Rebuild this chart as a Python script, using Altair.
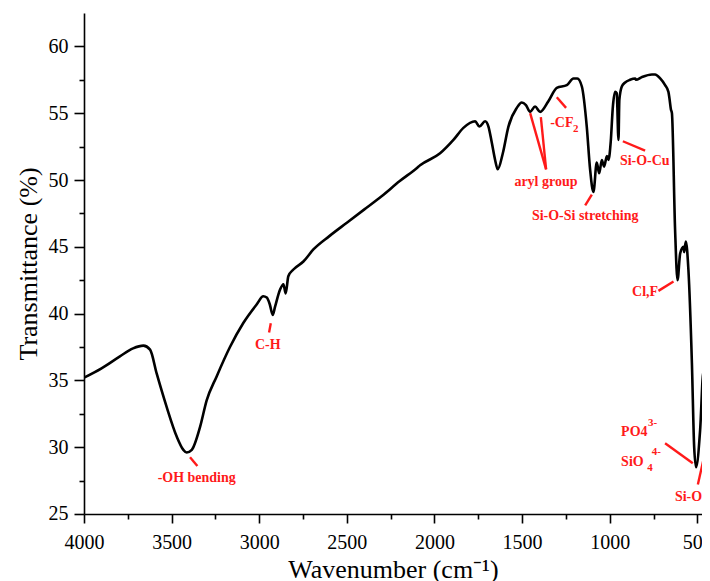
import altair as alt
import pandas as pd

# ---- spectrum (wavenumber cm-1, transmittance %) ----
wavenumber = [4000, 3900, 3795, 3720, 3661, 3623, 3585, 3528, 3471, 3433, 3414,
              3385, 3338, 3300, 3243, 3167, 3091, 3014, 2977, 2957, 2940, 2923,
              2910, 2881, 2862, 2849, 2834, 2805, 2748, 2691, 2600, 2500, 2400,
              2300, 2200, 2100, 2082, 1968, 1892, 1835, 1768, 1744, 1711, 1692,
              1673, 1654, 1639, 1610, 1578, 1530, 1502, 1478, 1454, 1426, 1397,
              1350, 1302, 1245, 1207, 1185, 1159, 1131, 1112, 1093, 1074, 1060,
              1045, 1032, 1016, 1007, 994, 982, 969, 960, 950, 945, 931, 912,
              884, 855, 850, 817, 759, 741, 712, 684, 665, 659, 651, 645, 627,
              613, 598, 579, 575, 566, 551, 531, 518, 507, 484, 465, 446, 427]
transmittance = [35.2, 35.9, 36.8, 37.4, 37.6, 37.3, 35.5, 33.0, 30.8, 29.8, 29.6,
                 29.8, 31.5, 33.5, 35.3, 37.5, 39.3, 40.7, 41.3, 41.2, 40.7, 39.9,
                 40.5, 41.8, 42.2, 41.5, 42.8, 43.3, 43.9, 44.8, 45.8, 46.8, 47.8,
                 48.8, 49.9, 50.9, 51.1, 52.0, 53.0, 53.9, 54.4, 54.0, 54.4, 54.0,
                 52.8, 51.5, 50.8, 52.0, 54.0, 55.4, 55.8, 55.6, 55.1, 55.5, 55.1,
                 55.9, 56.9, 57.1, 57.6, 57.6, 57.0, 54.0, 50.8, 49.1, 51.3, 50.5,
                 51.5, 51.0, 51.8, 51.5, 52.9, 55.5, 56.6, 56.5, 53.0, 56.0, 57.0,
                 57.3, 57.5, 57.6, 57.5, 57.7, 57.9, 57.9, 57.6, 57.1, 56.6, 56.1,
                 55.3, 55.0, 46.3, 42.5, 44.5, 45.0, 44.6, 45.4, 43.3, 36.3, 30.0,
                 28.5, 31.3, 35.7, 34.0, 32.8]

# ---- annotation lines (data units) ----
line_x1 = [3395, 2934, 1454, 1393, 1302, 1140, 925, 722, 684, 497]
line_y1 = [29.25, 39.28, 55.0, 54.7, 56.2, 48.1, 52.9, 41.7, 30.3, 27.2]
line_x2 = [3353, 2944, 1363, 1363, 1249, 1102, 798, 636, 526, 415]
line_y2 = [28.6, 38.58, 50.8, 50.8, 55.4, 48.9, 52.2, 42.4, 28.8, 32.0]

# ---- annotation texts ----
center_text = ["-OH bending", "C-H", "aryl group", "Si-O-Si stretching", "Si-O-Cu", "Cl,F"]
center_x = [3357, 2951, 1364, 1140, 800, 798]
center_y = [27.7, 37.66, 49.82, 47.27, 51.39, 41.65]

left_text = ["-CF", "PO4", "SiO", "Si-O"]
left_x = [1340, 935, 935, 628]
left_y = [54.27, 31.16, 28.92, 26.3]

small_text = ["2", "3-", "4", "4-"]
small_x = [1209, 781, 786, 760]
small_y = [53.84, 31.79, 28.42, 29.67]

x_ticks = list(range(500, 4001, 250))
y_ticks = [25 + 2.5 * i for i in range(15)]

FONT = "Liberation Serif"
RED = "#ff1a1a"

spec = pd.DataFrame({"wn": wavenumber, "T": transmittance})
lines = pd.DataFrame({"x1": line_x1, "y1": line_y1, "x2": line_x2, "y2": line_y2})
ctext = pd.DataFrame({"x": center_x, "y": center_y, "t": center_text})
ltext = pd.DataFrame({"x": left_x, "y": left_y, "t": left_text})
stext = pd.DataFrame({"x": small_x, "y": small_y, "t": small_text})

xs = alt.Scale(domain=[474, 4000], reverse=True, nice=False, zero=False)
ys = alt.Scale(domain=[25, 62.5], nice=False, zero=False)

x_axis = alt.Axis(
    values=x_ticks, format="d",
    labelExpr="datum.value % 500 === 0 ? datum.label : ''",
    tickSize={"condition": {"test": "datum.value % 500 === 0", "value": 9}, "value": 5},
    tickWidth=1.6, tickColor="black", domainColor="black", domainWidth=1.6,
    labelFont=FONT, labelFontSize=20, labelColor="black", labelPadding=10,
    title="Wavenumber (cm\u207b\u00b9)", titleFont=FONT, titleFontSize=26,
    titleFontWeight="normal", titleColor="black", titlePadding=4, grid=False,
    labelFlush=False, labelOverlap=False,
)
y_axis = alt.Axis(
    values=y_ticks,
    labelExpr="datum.value % 5 === 0 ? datum.label : ''",
    tickSize={"condition": {"test": "datum.value % 5 === 0", "value": 10}, "value": 5},
    tickWidth=1.6, tickColor="black", domainColor="black", domainWidth=1.6,
    labelFont=FONT, labelFontSize=20, labelColor="black", labelPadding=6,
    title="Transmittance (%)", titleFont=FONT, titleFontSize=26,
    titleFontWeight="normal", titleColor="black", titlePadding=6, grid=False,
    labelFlush=False, labelOverlap=False,
)


def X(field):
    return alt.X(field, scale=xs, axis=x_axis)


def Y(field):
    return alt.Y(field, scale=ys, axis=y_axis)


curve = alt.Chart(spec).mark_line(color="black", strokeWidth=2.6, clip=True,
                                  interpolate="monotone").encode(
    x=X("wn:Q"), y=Y("T:Q"), order=alt.Order("wn:Q", sort="descending"),
)

rules = alt.Chart(lines).mark_rule(color=RED, strokeWidth=2.4, clip=True).encode(
    x=X("x1:Q"), y=Y("y1:Q"), x2="x2:Q", y2="y2:Q",
)

ct = alt.Chart(ctext).mark_text(font=FONT, fontSize=14, fontWeight="bold", color=RED,
                                align="center", baseline="middle").encode(
    x=X("x:Q"), y=Y("y:Q"), text="t:N")
lt = alt.Chart(ltext).mark_text(font=FONT, fontSize=14, fontWeight="bold", color=RED,
                                align="left", baseline="middle").encode(
    x=X("x:Q"), y=Y("y:Q"), text="t:N")
st = alt.Chart(stext).mark_text(font=FONT, fontSize=11, fontWeight="bold", color=RED,
                                align="left", baseline="middle").encode(
    x=X("x:Q"), y=Y("y:Q"), text="t:N")

chart = alt.layer(curve, rules, ct, lt, st).properties(
    width=617.9, height=501,
    autosize=alt.AutoSizeParams(type="none"),
    padding={"left": 76, "top": 5, "right": 0, "bottom": 67},
    background="white",
).configure_view(stroke=None).configure_axis(labelFont=FONT, titleFont=FONT)

chart.save("out.html", embed_options={"renderer": "svg", "actions": False})
